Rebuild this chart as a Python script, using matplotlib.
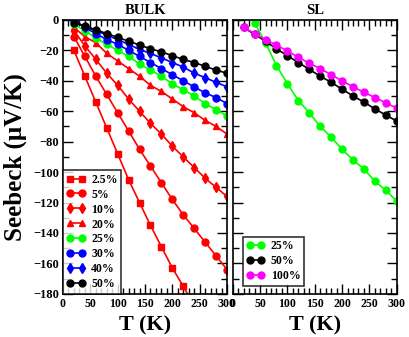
import matplotlib.pyplot as plt
from matplotlib.ticker import MultipleLocator

plt.rcParams["font.family"] = ["Liberation Serif", "DejaVu Serif"]
plt.rcParams["font.weight"] = "bold"

T = [20, 40, 60, 80, 100, 120, 140, 160, 180, 200, 220, 240, 260, 280, 300]

# BULK panel
bulk_labels = ["2.5%", "5%", "10%", "20%", "25%", "30%", "40%", "50%"]
bulk_2p5 = [-20, -37, -54, -71, -88, -105, -120, -135, -149, -163, -175, -188, -200, -212, -224]
bulk_5 = [-11, -24, -37, -49, -61, -73, -85, -96, -107, -118, -128, -137, -146, -155, -164]
bulk_10 = [-7, -17, -26, -35, -43, -52, -60, -68, -75, -83, -90, -97, -104, -110, -116]
bulk_20 = [-5, -11, -15, -22, -27, -32, -37, -43, -47, -52, -57, -61, -66, -70, -75]
bulk_25 = [-3, -7, -12, -16, -20, -24, -29, -33, -37, -42, -46, -50, -55, -59, -63]
bulk_30 = [0, -5, -9, -13, -16, -20, -24, -28, -32, -36, -40, -44, -48, -51, -55]
bulk_40 = [-1, -4.5, -7, -10, -13, -16, -19.5, -22, -25, -28, -31, -35, -38, -41, -44]
bulk_50 = [-2, -4, -6.5, -9, -11.5, -14, -16.5, -19, -21, -23.5, -26, -28, -30.5, -33, -35]

# SL panel
sl_labels = ["25%", "50%", "100%"]
sl_25 = [12, -2, -15, -30, -42, -53, -61, -70, -77, -85, -92, -98, -106, -112, -119]
sl_50 = [-5, -9.5, -14, -19, -23.5, -28, -32.5, -37, -41, -45.5, -50, -54, -58.5, -62.5, -66.5]
sl_100 = [-5, -9, -13, -16.5, -20.5, -24.5, -28.5, -32, -36, -40, -44, -47.5, -51, -54.5, -58]

bulk_series = [bulk_2p5, bulk_5, bulk_10, bulk_20, bulk_25, bulk_30, bulk_40, bulk_50]
bulk_colors = ["red", "red", "red", "red", "#00ff00", "blue", "blue", "black"]
bulk_markers = ["s", "o", "d", "^", "o", "o", "d", "o"]
bulk_msize = [4.3, 5, 4.8, 5, 5, 5, 4.8, 5]

sl_series = [sl_25, sl_50, sl_100]
sl_colors = ["#00ff00", "black", "#ff00ff"]

fig = plt.figure(figsize=(4.09, 3.37), dpi=100)
ax1 = fig.add_axes([0.154, 0.128, 0.401, 0.813])
ax2 = fig.add_axes([0.569, 0.128, 0.401, 0.813])


def style_axis(ax):
    ax.set_xlim(0, 300)
    ax.set_ylim(-180, 0)
    ax.xaxis.set_major_locator(MultipleLocator(50))
    ax.xaxis.set_minor_locator(MultipleLocator(10))
    ax.yaxis.set_major_locator(MultipleLocator(20))
    ax.yaxis.set_minor_locator(MultipleLocator(10))
    ax.tick_params(which="both", direction="in", top=True, right=True,
                   labelsize=9, width=1, pad=3)
    ax.tick_params(which="major", length=7)
    ax.tick_params(which="minor", length=4)
    ax.tick_params(axis="x", labelsize=8.6)
    for s in ax.spines.values():
        s.set_linewidth(1.2)
    for lab in ax.get_xticklabels() + ax.get_yticklabels():
        lab.set_fontweight("bold")


for ys, c, m, ms, lab in zip(bulk_series, bulk_colors, bulk_markers, bulk_msize, bulk_labels):
    ax1.plot(T, ys, color=c, marker=m, markersize=ms, linewidth=1.2, label=lab)

for ys, c, lab in zip(sl_series, sl_colors, sl_labels):
    ax2.plot(T, ys, color=c, marker="o", markersize=5, linewidth=1.2, label=lab)

style_axis(ax1)
style_axis(ax2)
ax2.set_yticklabels([])

ax1.set_title("BULK", fontsize=10.5, fontweight="bold", pad=4)
ax2.set_title("SL", fontsize=10.5, fontweight="bold", pad=4)
ax1.set_ylabel("Seebeck (\u03bcV/K)", fontsize=18, fontweight="bold", labelpad=4)
ax1.set_xlabel("T (K)", fontsize=16, fontweight="bold", labelpad=4)
ax2.set_xlabel("T (K)", fontsize=16, fontweight="bold", labelpad=4)

leg1 = ax1.legend(loc="lower left", numpoints=2, fontsize=8.5, frameon=True, fancybox=False,
                  edgecolor="black", borderaxespad=0.0, handlelength=1.6,
                  labelspacing=0.25, borderpad=0.3, handletextpad=0.5)
leg1.get_frame().set_linewidth(1.2)
leg2 = ax2.legend(loc="lower left", numpoints=2, fontsize=8.5, frameon=True, fancybox=False,
                  edgecolor="black", bbox_to_anchor=(0.06, 0.03), borderaxespad=0.0,
                  handlelength=1.6, labelspacing=0.25, borderpad=0.3, handletextpad=0.5)
leg2.get_frame().set_linewidth(1.2)

fig.savefig("out.png", dpi=100)
